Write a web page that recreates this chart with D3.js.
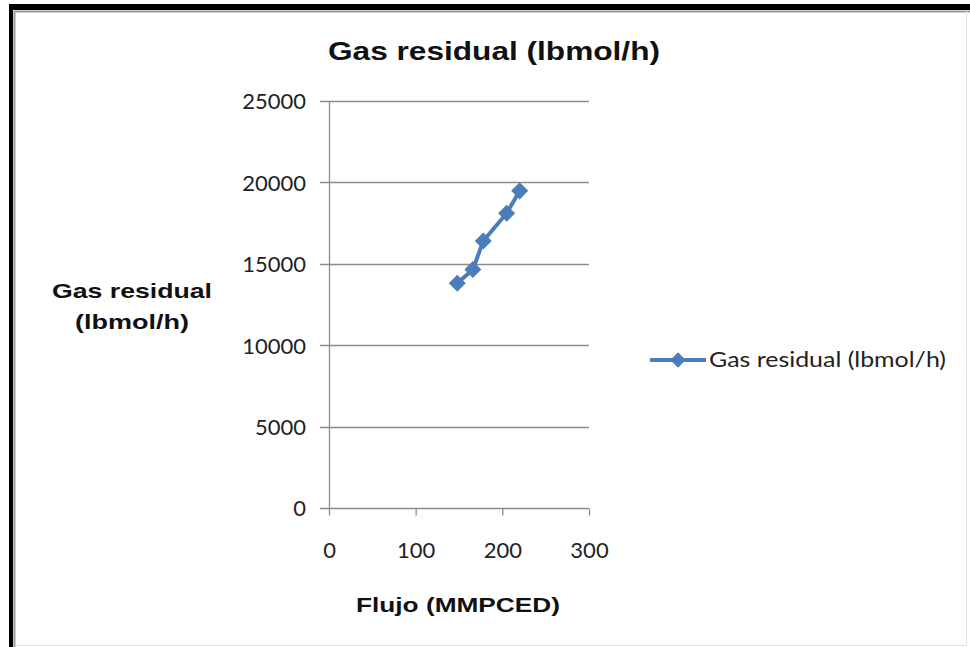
<!DOCTYPE html>
<html>
<head>
<meta charset="utf-8">
<script src="https://cdn.jsdelivr.net/npm/d3@7"></script>
<style>
  html, body { margin: 0; padding: 0; background: #fff; }
  svg { display: block; }
</style>
</head>
<body>
<svg id="chart" width="970" height="647"></svg>
<script>
// Flow (MMPCED) vs residual gas (lbmol/h)
const flujo = [148, 166, 178, 205, 220];
const gasResidual = [13800, 14650, 16400, 18100, 19480];
const xTicks = [0, 100, 200, 300];
const yTicks = [0, 5000, 10000, 15000, 20000, 25000];
const seriesName = "Gas residual (lbmol/h)";
const chartTitle = "Gas residual (lbmol/h)";
const xTitle = "Flujo (MMPCED)";
const yTitleLines = ["Gas residual", "(lbmol/h)"];

const W = 970, H = 647;
const svg = d3.select("#chart");
const blue = "#4a7ebb";
const gridGray = "#8c8c8c";
const labelFont = "Lato, 'Open Sans', sans-serif";
const boldFont = "'Liberation Sans', Arial, sans-serif";

// outer frame
svg.append("rect").attr("x", 0).attr("y", 0).attr("width", W).attr("height", H).attr("fill", "#fff");
svg.append("rect").attr("x", 9).attr("y", 4).attr("width", W - 9).attr("height", 6).attr("fill", "#000");
svg.append("rect").attr("x", 9).attr("y", 4).attr("width", 4).attr("height", H - 4).attr("fill", "#000");
svg.append("path").attr("d", `M14.5,${H} V11.5 H${W}`).attr("fill", "none").attr("stroke", "#9a9a9a").attr("stroke-width", 2);
svg.append("path").attr("d", `M15,645.5 H966.5 V11`).attr("fill", "none").attr("stroke", "#e2e2e2").attr("stroke-width", 1);

const x = d3.scaleLinear().domain([0, 300]).range([329, 589]);
const y = d3.scaleLinear().domain([0, 25000]).range([508, 101]);

// horizontal gridlines
svg.append("g").selectAll("line").data(yTicks).join("line")
  .attr("x1", x(0) - 9).attr("x2", x(300))
  .attr("y1", d => Math.round(y(d)) + 0.5).attr("y2", d => Math.round(y(d)) + 0.5)
  .attr("stroke", gridGray).attr("stroke-width", 1.3);

// y axis line
svg.append("line")
  .attr("x1", x(0) + 0.5).attr("x2", x(0) + 0.5)
  .attr("y1", y(25000)).attr("y2", y(0))
  .attr("stroke", gridGray).attr("stroke-width", 1.3);

// x axis ticks
const xAxis = d3.axisBottom(x).tickValues(xTicks).tickSize(7).tickSizeOuter(0).tickFormat(d3.format("d"));
const gx = svg.append("g").attr("transform", `translate(0,${Math.round(y(0)) + 0.5})`).call(xAxis);
gx.select(".domain").remove();
gx.selectAll(".tick line").attr("stroke", gridGray).attr("stroke-width", 1.3);
gx.selectAll(".tick text")
  .attr("y", 0).attr("dy", null)
  .attr("transform", "translate(0,49)")
  .attr("font-family", labelFont).attr("font-size", 22).attr("fill", "#222")
  .attr("text-anchor", "middle");

// y axis labels
const yAxis = d3.axisLeft(y).tickValues(yTicks).tickSize(0).tickFormat(d3.format("d"));
const gy = svg.append("g").attr("transform", `translate(${x(0) - 23},0)`).call(yAxis);
gy.select(".domain").remove();
gy.selectAll(".tick line").remove();
gy.selectAll(".tick text")
  .attr("x", 0).attr("dy", "0.36em")
  .attr("font-family", labelFont).attr("font-size", 22).attr("fill", "#222")
  .attr("text-anchor", "end");

// series line
const line = d3.line().x((d, i) => x(flujo[i])).y(d => y(d));
svg.append("path").datum(gasResidual)
  .attr("d", line).attr("fill", "none").attr("stroke", blue)
  .attr("stroke-width", 4).attr("stroke-linejoin", "round");

// diamond markers
const diamond = d3.symbol().type(d3.symbolDiamond2).size(185);
svg.append("g").selectAll("path").data(gasResidual).join("path")
  .attr("d", diamond)
  .attr("transform", (d, i) => `translate(${x(flujo[i])},${y(d)})`)
  .attr("fill", blue);

// titles
svg.append("text").attr("x", 494).attr("y", 60)
  .attr("text-anchor", "middle").attr("font-family", boldFont).attr("font-weight", "bold")
  .attr("font-size", 25).attr("fill", "#111")
  .attr("textLength", 332).attr("lengthAdjust", "spacingAndGlyphs")
  .text(chartTitle);

svg.append("text").attr("x", 458).attr("y", 612)
  .attr("text-anchor", "middle").attr("font-family", boldFont).attr("font-weight", "bold")
  .attr("font-size", 21).attr("fill", "#111")
  .attr("textLength", 204).attr("lengthAdjust", "spacingAndGlyphs")
  .text(xTitle);

const yt = svg.append("text").attr("text-anchor", "middle")
  .attr("font-family", boldFont).attr("font-weight", "bold")
  .attr("font-size", 21).attr("fill", "#111");
yt.selectAll("tspan").data(yTitleLines).join("tspan")
  .attr("x", 132).attr("y", (d, i) => 298 + i * 31)
  .attr("textLength", (d, i) => i === 0 ? 160 : 114)
  .attr("lengthAdjust", "spacingAndGlyphs")
  .text(d => d);

// legend
const legendDiamond = d3.symbol().type(d3.symbolDiamond2).size(150);
const lg = svg.append("g").attr("transform", "translate(650,360)");
lg.append("line").attr("x1", 0).attr("x2", 56).attr("y1", 0).attr("y2", 0)
  .attr("stroke", blue).attr("stroke-width", 4);
lg.append("path").attr("d", legendDiamond).attr("transform", "translate(28,0)").attr("fill", blue);
lg.append("text").attr("x", 59).attr("y", 0).attr("dy", "0.35em")
  .attr("font-family", labelFont).attr("font-size", 21).attr("fill", "#222")
  .attr("textLength", 237).attr("lengthAdjust", "spacingAndGlyphs")
  .text(seriesName);
</script>
</body>
</html>
